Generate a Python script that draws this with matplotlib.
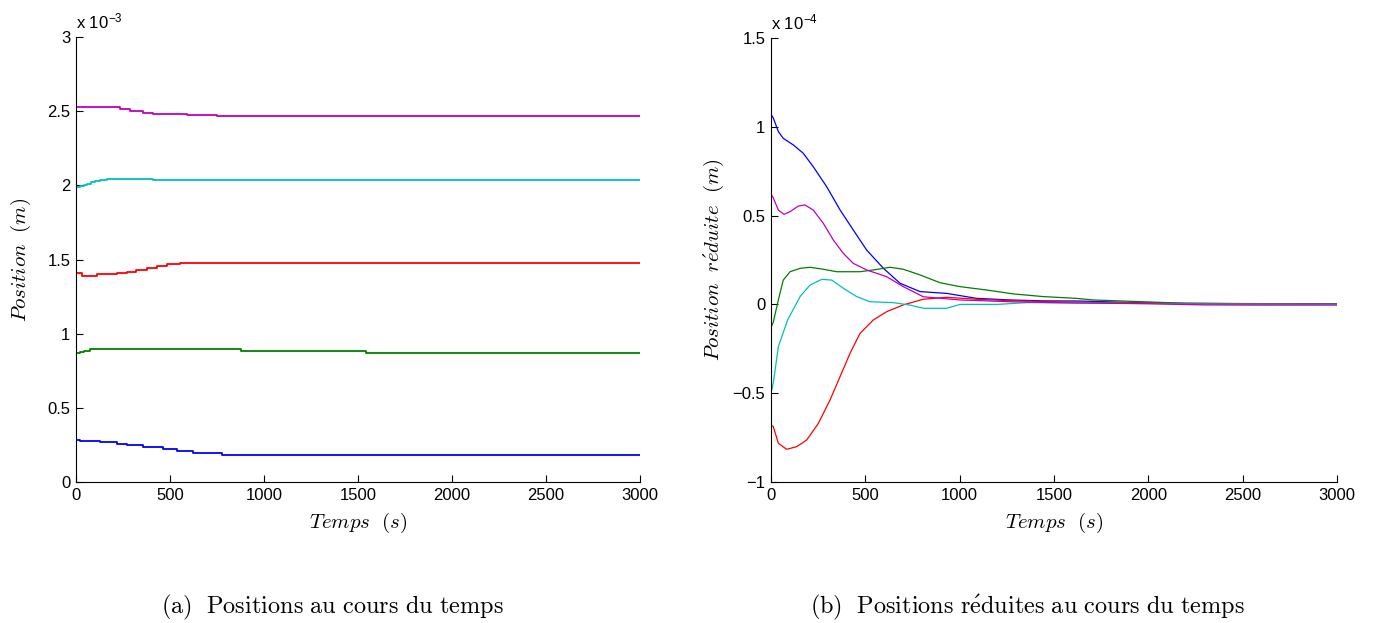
import matplotlib
matplotlib.use("Agg")
import matplotlib.pyplot as plt

plt.rcParams['font.family'] = ['Liberation Sans', 'DejaVu Sans']
plt.rcParams['mathtext.fontset'] = 'cm'

# ---------------- Data ----------------
# Left panel: positions (units of 1e-3 m), staircase curves
t_a_mag = [0, 234, 287, 356, 410, 590, 750, 3000]
v_a_mag = [2.527, 2.516, 2.498, 2.491, 2.484, 2.477, 2.468, 2.468]
t_a_cya = [0, 20, 40, 60, 80, 100, 130, 163, 410, 3000]
v_a_cya = [1.991, 1.998, 2.005, 2.012, 2.020, 2.027, 2.034, 2.041, 2.034, 2.034]
t_a_red = [0, 30, 57, 110, 170, 220, 270, 320, 376, 430, 482, 553, 676, 3000]
v_a_red = [1.407, 1.392, 1.389, 1.400, 1.403, 1.408, 1.413, 1.428, 1.445, 1.457, 1.467, 1.474, 1.479, 1.479]
t_a_grn = [0, 20, 40, 74, 880, 1545, 3000]
v_a_grn = [0.868, 0.876, 0.884, 0.894, 0.885, 0.872, 0.872]
t_a_blu = [0, 21, 128, 217, 270, 358, 464, 535, 624, 775, 3000]
v_a_blu = [0.283, 0.276, 0.269, 0.258, 0.251, 0.236, 0.220, 0.207, 0.198, 0.182, 0.182]

# Right panel: reduced positions (units of 1e-4 m)
t_b_blu = [0, 12, 39, 65, 118, 171, 224, 295, 366, 436, 507, 596, 684, 790, 931, 1090, 1267, 1443, 1638, 2000, 2500, 3000]
v_b_blu = [1.07, 1.05, 0.973, 0.935, 0.898, 0.851, 0.775, 0.663, 0.532, 0.419, 0.306, 0.203, 0.119, 0.072, 0.062, 0.034, 0.025, 0.020, 0.019, 0.008, 0.004, 0.002]
t_b_mag = [0, 12, 39, 69, 101, 145, 180, 224, 277, 330, 383, 436, 507, 613, 701, 807, 1002, 1267, 1600, 2000, 2300, 2600, 3000]
v_b_mag = [0.62, 0.60, 0.531, 0.507, 0.522, 0.554, 0.560, 0.531, 0.457, 0.363, 0.288, 0.231, 0.194, 0.156, 0.100, 0.043, 0.025, 0.015, 0.008, 0.004, -0.003, -0.004, -0.004]
t_b_grn = [0, 12, 39, 65, 101, 154, 207, 277, 348, 472, 542, 631, 701, 790, 896, 1002, 1143, 1285, 1443, 1620, 1708, 1972, 2200, 3000]
v_b_grn = [-0.13, -0.10, 0.025, 0.137, 0.184, 0.203, 0.209, 0.198, 0.184, 0.184, 0.194, 0.209, 0.198, 0.166, 0.122, 0.100, 0.081, 0.059, 0.044, 0.034, 0.025, 0.015, 0.006, 0.003]
t_b_cya = [0, 12, 39, 88, 154, 207, 269, 322, 383, 454, 525, 648, 737, 808, 931, 1002, 1200, 1355, 1700, 2200, 3000]
v_b_cya = [-0.50, -0.444, -0.238, -0.088, 0.044, 0.109, 0.141, 0.137, 0.091, 0.044, 0.015, 0.01, -0.004, -0.022, -0.022, 0.0, 0.0, 0.01, 0.008, 0.002, 0.0]
t_b_red = [0, 12, 39, 83, 136, 189, 251, 313, 366, 419, 472, 542, 613, 701, 807, 931, 1090, 1267, 1500, 1800, 2200, 3000]
v_b_red = [-0.68, -0.688, -0.782, -0.816, -0.801, -0.764, -0.670, -0.538, -0.407, -0.275, -0.163, -0.088, -0.041, -0.003, 0.029, 0.040, 0.029, 0.021, 0.015, 0.01, 0.004, 0.001]

x_ticks = [0, 500, 1000, 1500, 2000, 2500, 3000]
ya_ticks = [0, 0.5, 1, 1.5, 2, 2.5, 3]
ya_labels = ['0', '0.5', '1', '1.5', '2', '2.5', '3']
yb_ticks = [-1, -0.5, 0, 0.5, 1, 1.5]
yb_labels = ['\u22121', '\u22120.5', '0', '0.5', '1', '1.5']

C_BLUE = (0, 0, 1)
C_GREEN = (0, 0.5, 0)
C_RED = (1, 0, 0)
C_CYAN = (0, 0.75, 0.75)
C_MAG = (0.75, 0, 0.75)

W, H = 1373, 623
fig = plt.figure(figsize=(W / 100, H / 100), dpi=100)

ax1 = fig.add_axes([76 / W, (H - 482) / H, (640 - 76) / W, (482 - 37) / H])
ax2 = fig.add_axes([771 / W, (H - 482) / H, (1337 - 771) / W, (482 - 38) / H])

lw_a = 1.3
ax1.plot(t_a_blu, v_a_blu, color=C_BLUE, lw=lw_a, drawstyle='steps-post')
ax1.plot(t_a_grn, v_a_grn, color=C_GREEN, lw=lw_a, drawstyle='steps-post')
ax1.plot(t_a_red, v_a_red, color=C_RED, lw=lw_a, drawstyle='steps-post')
ax1.plot(t_a_cya, v_a_cya, color=C_CYAN, lw=lw_a, drawstyle='steps-post')
ax1.plot(t_a_mag, v_a_mag, color=C_MAG, lw=lw_a, drawstyle='steps-post')

lw_b = 0.9
ax2.plot(t_b_blu, v_b_blu, color=C_BLUE, lw=lw_b)
ax2.plot(t_b_grn, v_b_grn, color=C_GREEN, lw=lw_b)
ax2.plot(t_b_red, v_b_red, color=C_RED, lw=lw_b)
ax2.plot(t_b_cya, v_b_cya, color=C_CYAN, lw=lw_b)
ax2.plot(t_b_mag, v_b_mag, color=C_MAG, lw=lw_b)

tick_fs = 12
for ax in (ax1, ax2):
    ax.set_xlim(0, 3000)
    ax.set_xticks(x_ticks)
    ax.set_xticklabels([str(v) for v in x_ticks])
    for s in ('top', 'right'):
        ax.spines[s].set_visible(False)
    for s in ('left', 'bottom'):
        ax.spines[s].set_linewidth(0.8)
    ax.tick_params(direction='in', length=5, width=0.8, labelsize=tick_fs, pad=4)

ax1.set_ylim(0, 3)
ax1.set_yticks(ya_ticks)
ax1.set_yticklabels(ya_labels)
ax2.set_ylim(-1, 1.5)
ax2.set_yticks(yb_ticks)
ax2.set_yticklabels(yb_labels)

ax1.text(0, 1.012, 'x 10$^{\\mathregular{\u22123}}$', transform=ax1.transAxes,
         fontsize=tick_fs, ha='left', va='bottom')
ax2.text(0, 1.012, 'x 10$^{\\mathregular{\u22124}}$', transform=ax2.transAxes,
         fontsize=tick_fs, ha='left', va='bottom')

lab_fs = 15
ax1.set_xlabel(r'$Temps\ \ (s)$', fontsize=lab_fs, labelpad=6)
ax1.set_ylabel(r'$Position\ \ (m)$', fontsize=lab_fs, labelpad=10)
ax2.set_xlabel(r'$Temps\ \ (s)$', fontsize=lab_fs, labelpad=6)
ax2.set_ylabel(r'$Position\ \ r\acute{e}duite\ \ (m)$', fontsize=lab_fs, labelpad=5)

cap_fs = 17.5
fig.text(332 / W, 1 - 607 / H, r'$\mathrm{(a)\ \ Positions\ au\ cours\ du\ temps}$',
         fontsize=cap_fs, ha='center', va='center')
fig.text(1028 / W, 1 - 607 / H, r'$\mathrm{(b)\ \ Positions\ r\acute{e}duites\ au\ cours\ du\ temps}$',
         fontsize=cap_fs, ha='center', va='center')

fig.savefig('out.png', dpi=100)
